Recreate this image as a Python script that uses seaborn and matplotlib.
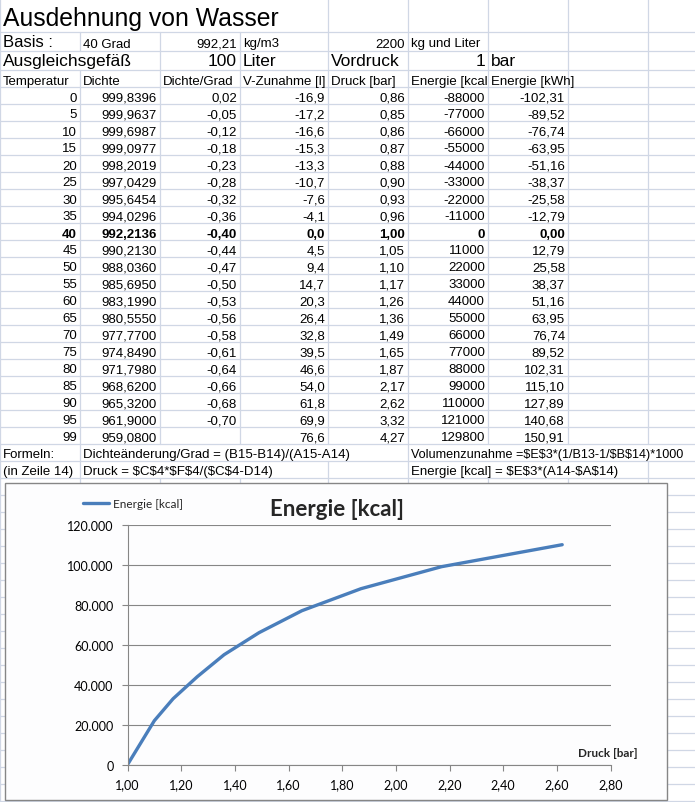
import matplotlib
matplotlib.use('Agg')
import matplotlib.pyplot as plt
import seaborn as sns
import pandas as pd
from matplotlib.patches import Rectangle
from matplotlib.ticker import FuncFormatter, MultipleLocator

# Tabellenwerte
temperatur = [0, 5, 10, 15, 20, 25, 30, 35, 40, 45, 50, 55, 60, 65, 70, 75, 80, 85, 90, 95, 99]
dichte = [999.8396, 999.9637, 999.6987, 999.0977, 998.2019, 997.0429, 995.6454, 994.0296,
          992.2136, 990.2130, 988.0360, 985.6950, 983.1990, 980.5550, 977.7700, 974.8490,
          971.7980, 968.6200, 965.3200, 961.9000, 959.0800]
dichte_grad = [0.02, -0.05, -0.12, -0.18, -0.23, -0.28, -0.32, -0.36, -0.40, -0.44, -0.47,
               -0.50, -0.53, -0.56, -0.58, -0.61, -0.64, -0.66, -0.68, -0.70, None]
v_zunahme = [-16.9, -17.2, -16.6, -15.3, -13.3, -10.7, -7.6, -4.1, 0.0, 4.5, 9.4, 14.7,
             20.3, 26.4, 32.8, 39.5, 46.6, 54.0, 61.8, 69.9, 76.6]
druck = [0.86, 0.85, 0.86, 0.87, 0.88, 0.90, 0.93, 0.96, 1.00, 1.05, 1.10, 1.17, 1.26,
         1.36, 1.49, 1.65, 1.87, 2.17, 2.62, 3.32, 4.27]
energie_kcal = [-88000, -77000, -66000, -55000, -44000, -33000, -22000, -11000, 0, 11000,
                22000, 33000, 44000, 55000, 66000, 77000, 88000, 99000, 110000, 121000, 129800]
energie_kwh = [-102.31, -89.52, -76.74, -63.95, -51.16, -38.37, -25.58, -12.79, 0.00, 12.79,
               25.58, 38.37, 51.16, 63.95, 76.74, 89.52, 102.31, 115.10, 127.89, 140.68, 150.91]

header = ['Temperatur', 'Dichte', 'Dichte/Grad', 'V-Zunahme [l]', 'Druck [bar]',
          'Energie [kcal', 'Energie [kWh]']

df = pd.DataFrame({'Temperatur': temperatur, 'Dichte': dichte, 'DichteGrad': dichte_grad,
                   'VZunahme': v_zunahme, 'Druck': druck, 'Energie': energie_kcal,
                   'kWh': energie_kwh})

sns.set_style('white')
plt.rcParams['font.family'] = ['Liberation Sans', 'DejaVu Sans']

fig = plt.figure(figsize=(6.95, 8.03), dpi=100)
sheet = fig.add_axes([0, 0, 1, 1])
sheet.set_xlim(0, 695)
sheet.set_ylim(803, 0)
sheet.axis('off')

grid_c = '#d0d7e5'
col_x = [0, 80, 160, 240, 328, 408, 488, 568, 648, 695]
row_y = [0, 33, 52, 71, 88] + [88 + 17 * i for i in range(1, 43)]

# horizontale Gitterlinien
for y in row_y[1:]:
    sheet.plot([0, 695], [y, y], color=grid_c, lw=0.9, zorder=1)

# vertikale Gitterlinien (ausgespart wo Text überläuft)
hidden = {80: [(0, 33), (52, 71)],
          160: [(0, 33), (445, 479)],
          240: [(0, 33), (445, 479)],
          328: [(445, 462)],
          488: [(445, 479)],
          568: [(445, 479)],
          648: [(445, 462)]}
for x in col_x[:-1]:
    segs = [(0, 803)]
    for h0, h1 in hidden.get(x, []):
        new = []
        for s0, s1 in segs:
            if h1 <= s0 or h0 >= s1:
                new.append((s0, s1))
            else:
                if s0 < h0:
                    new.append((s0, h0))
                if h1 < s1:
                    new.append((h1, s1))
        segs = new
    for s0, s1 in segs:
        sheet.plot([x, x], [s0, s1], color=grid_c, lw=0.9, zorder=1)


def cell(col, bottom, s, align='right', size=9.5, bold=False, off=3.5):
    if align == 'right':
        x = col_x[col + 1] - 3
    else:
        x = col_x[col] + 3
    sheet.text(x, bottom - off, s, ha=align, va='baseline', fontsize=size,
               fontweight='bold' if bold else 'normal', color='black', zorder=3,
               parse_math=False)


def de(v, d):
    return f'{v:.{d}f}'.replace('.', ',')


# Kopfbereich
cell(0, 33, 'Ausdehnung von Wasser', 'left', size=17.8, off=7)
cell(0, 52, 'Basis :', 'left', size=12, off=5)
cell(1, 52, '40 Grad', 'left', off=4.5)
cell(2, 52, '992,21', 'right', off=4.5)
cell(3, 52, 'kg/m3', 'left', off=4.5)
cell(4, 52, '2200', 'right', off=4.5)
cell(5, 52, 'kg und Liter', 'left', off=4.5)
cell(0, 71, 'Ausgleichsgefäß', 'left', size=12.5, off=5)
cell(2, 71, '100', 'right', size=12.5, off=5)
cell(3, 71, 'Liter', 'left', size=12.5, off=5)
cell(4, 71, 'Vordruck', 'left', size=12.5, off=5)
cell(5, 71, '1', 'right', size=12.5, off=5)
cell(6, 71, 'bar', 'left', size=12.5, off=5)
for i, h in enumerate(header):
    cell(i, 88, h, 'left', off=3)

# Datenzeilen
for i, r in df.iterrows():
    b = 88 + 17 * (i + 1)
    bold = r['Temperatur'] == 40
    cell(0, b, str(int(r['Temperatur'])), bold=bold)
    cell(1, b, de(r['Dichte'], 4), bold=bold)
    if pd.notna(r['DichteGrad']):
        cell(2, b, de(r['DichteGrad'], 2), bold=bold)
    cell(3, b, de(r['VZunahme'], 1), bold=bold)
    cell(4, b, de(r['Druck'], 2), bold=bold)
    cell(5, b, str(int(r['Energie'])), bold=bold)
    cell(6, b, de(r['kWh'], 2), bold=bold)

# Formeln
cell(0, 462, 'Formeln:', 'left')
cell(1, 462, 'Dichteänderung/Grad = (B15-B14)/(A15-A14)', 'left')
cell(5, 462, 'Volumenzunahme =$E$3*(1/B13-1/$B$14)*1000', 'left', size=9.1)
cell(0, 479, '(in Zeile 14)', 'left')
cell(1, 479, 'Druck = $C$4*$F$4/($C$4-D14)', 'left')
cell(5, 479, 'Energie [kcal] = $E$3*(A14-$A$14)', 'left')

# Diagrammrahmen
sheet.add_patch(Rectangle((5, 484), 662, 317, facecolor='#fdfdfe', edgecolor='#868686',
                          lw=1, zorder=4))

chart_font = 'Lato'
sheet.text(337, 510, 'Energie [kcal]', ha='center', va='center', fontsize=16,
           fontweight='bold', family=chart_font, zorder=5)
sheet.text(638, 754, 'Druck [bar]', ha='right', va='center', fontsize=8.5,
           fontweight='bold', family=chart_font, zorder=5)

x0, x1, y0, y1 = 127.5, 610.5, 525.7, 765.7
ax = fig.add_axes([x0 / 695, 1 - y1 / 803, (x1 - x0) / 695, (y1 - y0) / 803])
ax.set_facecolor('none')
ax.set_zorder(5)

sub = df[(df['Temperatur'] >= 40) & (df['Temperatur'] <= 90)]
sns.lineplot(data=sub, x='Druck', y='Energie', ax=ax, color='#4a7ebb', lw=2.4,
             label='Energie [kcal]', sort=False)

ax.set_xlim(1.0, 2.8)
ax.set_ylim(0, 120000)
ax.xaxis.set_major_locator(MultipleLocator(0.2))
ax.yaxis.set_major_locator(MultipleLocator(20000))
ax.xaxis.set_major_formatter(FuncFormatter(lambda v, p: f'{v:.2f}'.replace('.', ',')))
ax.yaxis.set_major_formatter(FuncFormatter(lambda v, p: f'{v:,.0f}'.replace(',', '.')))
ax.set_xlabel('')
ax.set_ylabel('')
ax.grid(axis='y', color='#868686', lw=0.8)
ax.grid(axis='x', visible=False)
for s in ['top', 'right']:
    ax.spines[s].set_visible(False)
for s in ['left', 'bottom']:
    ax.spines[s].set_color('#868686')
    ax.spines[s].set_linewidth(0.8)
ax.tick_params(axis='both', direction='out', length=4, width=0.8, color='#868686',
               pad=6, labelsize=9, labelcolor='black')
ax.tick_params(left=True, bottom=True)
for lab in ax.get_xticklabels() + ax.get_yticklabels():
    lab.set_family(chart_font)

ax.legend(loc='center left', bbox_to_anchor=(83 / 695, 1 - 505 / 803),
          bbox_transform=fig.transFigure, frameon=False, handlelength=2.2,
          handletextpad=0.3, borderpad=0, borderaxespad=0,
          prop={'family': chart_font, 'size': 8.5})

fig.savefig('out.png', dpi=100)
